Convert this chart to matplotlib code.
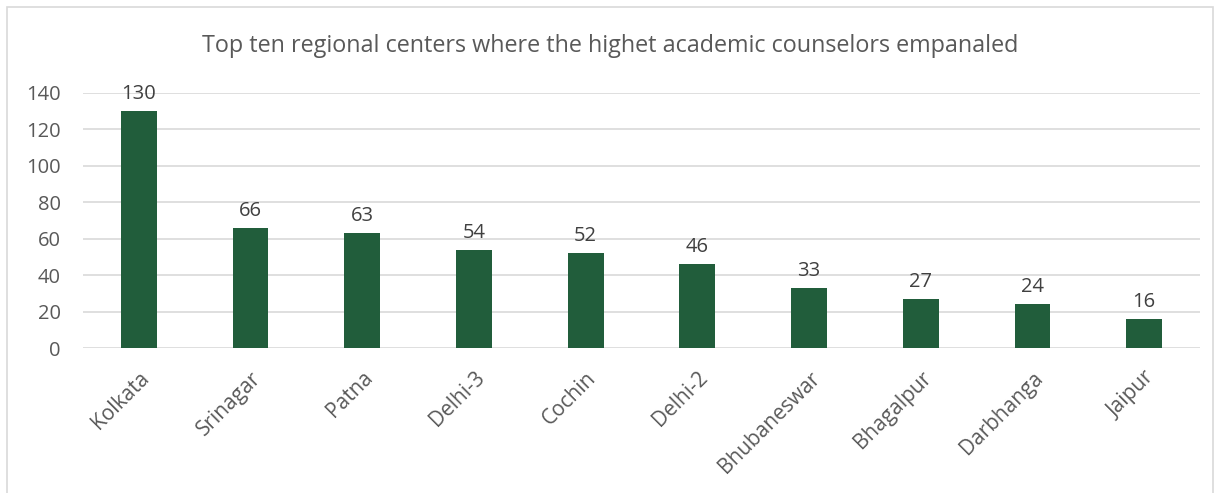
import matplotlib
matplotlib.use("Agg")
import matplotlib.pyplot as plt
from matplotlib.patches import Rectangle

centers = ["Kolkata", "Srinagar", "Patna", "Delhi-3", "Cochin", "Delhi-2",
           "Bhubaneswar", "Bhagalpur", "Darbhanga", "Jaipur"]
counselors = [130, 66, 63, 54, 52, 46, 33, 27, 24, 16]
y_ticks = [0, 20, 40, 60, 80, 100, 120, 140]
title = "Top ten regional centers where the highet academic counselors empanaled"

plt.rcParams['font.family'] = ['Open Sans', 'DejaVu Sans']
txt = "#595959"

fig = plt.figure(figsize=(12.21, 4.93), dpi=100)
fig.patches.append(Rectangle((7/1221, -0.01), 1206/1221, 1 - 7/493 + 0.01,
                             transform=fig.transFigure, fill=False,
                             edgecolor="#d9d9d9", linewidth=1.2))
ax = fig.add_axes([83/1221, 1 - 348/493, (1200 - 83)/1221, (348 - 93)/493])

x = list(range(len(centers)))
bars = ax.bar(x, counselors, width=0.32, color="#215d3b", zorder=3)
ax.set_xlim(-0.5, len(centers) - 0.5)
ax.set_ylim(0, 140)
ax.set_yticks(y_ticks)
ax.set_yticklabels([str(v) for v in y_ticks], fontsize=14.5, color=txt)
ax.set_xticks(x)
ax.set_xticklabels(centers, rotation=45, ha="right", rotation_mode="anchor",
                   fontsize=15, color=txt)
ax.tick_params(axis="both", length=0)
ax.tick_params(axis="x", pad=14)
ax.tick_params(axis="y", pad=16)
ax.grid(axis="y", color="#d9d9d9", linewidth=1.2, zorder=0)
for s in ax.spines.values():
    s.set_visible(False)

for b, v in zip(bars, counselors):
    ax.annotate(str(v), (b.get_x() + b.get_width() / 2, v), xytext=(0, 5),
                textcoords="offset points", ha="center", va="bottom",
                fontsize=14.5, color="#404040")

fig.text(0.5, 1 - 46/493, title, ha="center", va="center", fontsize=16.8, color=txt)

fig.savefig("out.png", dpi=100)
